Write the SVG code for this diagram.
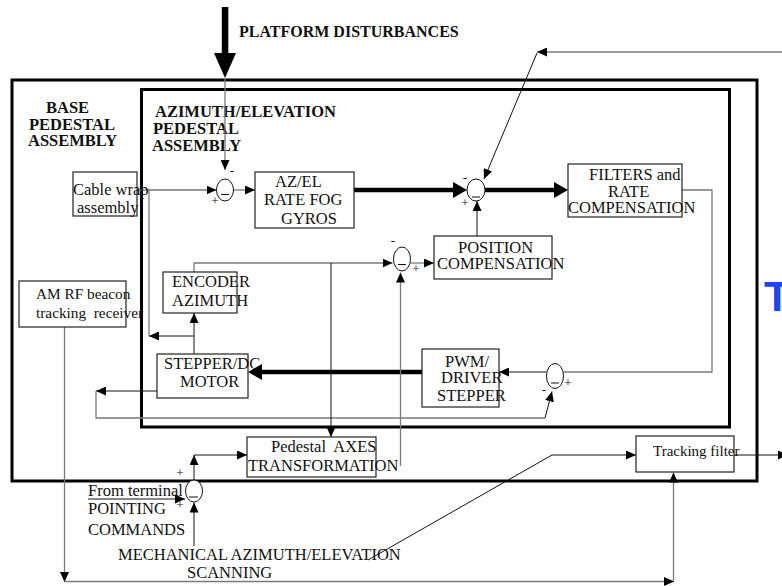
<svg xmlns="http://www.w3.org/2000/svg" width="782" height="586" viewBox="0 0 782 586">
<style>
.t{font-family:"Liberation Serif","Times New Roman",serif;font-size:16.5px;fill:#111;white-space:pre}
.b{font-weight:bold}
.s{font-size:13px}
.box{fill:#fff;stroke:#222;stroke-width:1.2}
.frame{fill:none;stroke:#000;stroke-width:3}
.g{fill:none;stroke:#7a7a7a;stroke-width:1.3}
.k{fill:none;stroke:#111;stroke-width:1}
.thick{fill:none;stroke:#000;stroke-width:4.5}
.j{fill:#fff;stroke:#111;stroke-width:1}
.m{stroke:#111;stroke-width:1}
</style>
<defs>
<marker id="a" viewBox="0 0 10 9" refX="10" refY="4.5" markerWidth="10" markerHeight="9" markerUnits="userSpaceOnUse" orient="auto"><path d="M0,0 L10,4.5 L0,9 z" fill="#000"/></marker>
<marker id="A" viewBox="0 0 14 16" refX="0" refY="8" markerWidth="14" markerHeight="16" markerUnits="userSpaceOnUse" orient="auto"><path d="M0,0 L14,8 L0,16 z" fill="#000"/></marker>
</defs>
<rect width="782" height="586" fill="#fff"/>

<g id="frames">
<rect class="frame" x="12" y="80" width="745" height="401"/>
<rect class="frame" x="141.5" y="89.5" width="588" height="337.5"/>
<text class="t b" x="46" y="113">BASE</text>
<text class="t b" x="29" y="129.5">PEDESTAL</text>
<text class="t b" x="28" y="146">ASSEMBLY</text>
<text class="t b" x="155" y="117">AZIMUTH/ELEVATION</text>
<text class="t b" x="153" y="134">PEDESTAL</text>
<text class="t b" x="152" y="151">ASSEMBLY</text>
</g>

<g id="connectors">
<rect x="221.8" y="7" width="6.5" height="47" fill="#000"/>
<polygon points="214,53 236,53 225,78" fill="#000"/>
<text class="t b" x="239" y="37" style="font-size:16px">PLATFORM DISTURBANCES</text>
<path class="g" d="M225,78 V170" marker-end="url(#a)"/>
<path class="g" d="M137,190 H149"/>
<path class="k" d="M194,336 H149" marker-end="url(#a)"/>
<path class="g" d="M149,336 V190 H216.5" marker-end="url(#a)"/>
<path class="g" d="M233.5,190 H255" marker-end="url(#a)"/>
<path class="thick" d="M354,190 H453" marker-end="url(#A)"/>
<path class="thick" d="M485,190 H554" marker-end="url(#A)"/>
<path class="g" d="M782,52 H537" marker-end="url(#a)"/>
<path class="k" d="M537,53 L484,179" marker-end="url(#a)"/>
<path class="k" d="M477,236 V201" marker-end="url(#a)"/>
<path class="g" d="M682,190 H712 V372 H563.5"/>
<path class="k" d="M546.5,372 H499" marker-end="url(#a)"/>
<path class="thick" d="M422,372 H262" marker-end="url(#A)"/>
<path class="k" d="M157,391 H96" marker-end="url(#a)"/>
<path class="g" d="M96,391 V418 H545"/>
<path class="k" d="M545,418 L552,391.5" marker-end="url(#a)"/>
<path class="k" d="M194,354 V313" marker-end="url(#a)"/>
<path class="g" d="M194,272 V263 H392.5" marker-end="url(#a)"/>
<path class="k" d="M331,263 V437" marker-end="url(#a)"/>
<path class="g" d="M400.5,466 V272.5" marker-end="url(#a)"/>
<path class="g" d="M410.5,263 H434" marker-end="url(#a)"/>
<path class="g" d="M64.5,327 V582" marker-end="url(#a)"/>
<path class="g" d="M64.5,581.5 H674" marker-end="url(#a)"/>
<path class="g" d="M673.5,581.5 V472.5" marker-end="url(#a)"/>
<path class="k" d="M368,560 L552,455 H636" marker-end="url(#a)"/>
<path class="k" d="M734,455 H788" marker-end="url(#a)"/>
<path class="k" d="M88,499 H185" marker-end="url(#a)"/>
<path class="k" d="M194,480 V455" marker-end="url(#a)"/>
<path class="k" d="M194,455 H247" marker-end="url(#a)"/>
<path class="k" d="M194,546 V502.5" marker-end="url(#a)"/>
</g>

<g id="cable-wrap">
<rect class="box" x="73" y="172" width="64" height="44"/>
<text class="t" x="73" y="195">Cable wrap</text>
<text class="t" x="77" y="213">assembly</text>
</g>

<g id="sum1">
<ellipse class="j" cx="225" cy="190" rx="8.5" ry="11"/>
<line class="m" x1="221" y1="194.5" x2="229" y2="194.5"/>
<text class="t s" x="232" y="175" text-anchor="middle">-</text>
<text class="t s" x="215" y="204.5" text-anchor="middle">+</text>
</g>

<g id="rate-fog-gyros">
<rect class="box" x="255" y="172" width="99" height="56"/>
<text class="t" x="275" y="187">AZ/EL</text>
<text class="t" x="264" y="205">RATE FOG</text>
<text class="t" x="281" y="224">GYROS</text>
</g>

<g id="sum2">
<ellipse class="j" cx="476" cy="190" rx="9" ry="11"/>
<line class="m" x1="472" y1="197" x2="480" y2="197"/>
<text class="t s" x="465" y="182" text-anchor="middle">-</text>
<text class="t s" x="465" y="206.5" text-anchor="middle">+</text>
</g>

<g id="filters">
<rect class="box" x="568" y="164" width="114" height="53"/>
<text class="t" x="589" y="180">FILTERS and</text>
<text class="t" x="608" y="197">RATE</text>
<text class="t" x="568" y="213">COMPENSATION</text>
</g>

<g id="position-compensation">
<rect class="box" x="434" y="236" width="118" height="43"/>
<text class="t" x="458" y="253">POSITION</text>
<text class="t" x="437" y="269">COMPENSATION</text>
</g>

<g id="sum3">
<ellipse class="j" cx="402" cy="259" rx="8.5" ry="12"/>
<line class="m" x1="398" y1="264.5" x2="406" y2="264.5"/>
<text class="t s" x="393" y="245" text-anchor="middle">-</text>
<text class="t s" x="416" y="272.5" text-anchor="middle">+</text>
</g>

<g id="encoder">
<rect class="box" x="163" y="272" width="74" height="41"/>
<text class="t" x="172" y="287">ENCODER</text>
<text class="t" x="172" y="306">AZIMUTH</text>
</g>

<g id="am-rf-beacon">
<rect class="box" x="19" y="281" width="107" height="46"/>
<text class="t" x="36" y="299" style="font-size:15.3px">AM RF beacon</text>
<text class="t" x="36" y="318" style="font-size:15.3px">tracking  receiver</text>
</g>

<g id="stepper-motor">
<rect class="box" x="157" y="354" width="91" height="44"/>
<text class="t" x="164" y="369">STEPPER/DC</text>
<text class="t" x="180" y="387">MOTOR</text>
</g>

<g id="pwm-driver">
<rect class="box" x="422" y="349" width="77" height="58"/>
<text class="t" x="445" y="367">PWM/</text>
<text class="t" x="441" y="383">DRIVER</text>
<text class="t" x="437" y="401">STEPPER</text>
</g>

<g id="sum4">
<ellipse class="j" cx="555" cy="376" rx="8.5" ry="12.5"/>
<line class="m" x1="551" y1="383" x2="559" y2="383"/>
<text class="t s" x="568" y="386.5" text-anchor="middle">+</text>
<text class="t s" x="544" y="394" text-anchor="middle">-</text>
</g>

<g id="pedestal-axes">
<rect class="box" x="247" y="437" width="129" height="40"/>
<text class="t" x="271" y="452">Pedestal  AXES</text>
<text class="t" x="248" y="471">TRANSFORMATION</text>
</g>

<g id="tracking-filter">
<rect class="box" x="636" y="436" width="98" height="36"/>
<text class="t" x="653" y="456" style="font-size:15px">Tracking filter</text>
</g>

<g id="sum5">
<ellipse class="j" cx="194" cy="491" rx="8.5" ry="11"/>
<line class="m" x1="189" y1="497" x2="198" y2="497"/>
<text class="t s" x="180" y="476.5" text-anchor="middle">+</text>
<text class="t s" x="180" y="509" text-anchor="middle">+</text>
</g>

<g id="pointing-commands">
<text class="t" x="88" y="496">From terminal</text>
<text class="t" x="88" y="514">POINTING</text>
<text class="t" x="88" y="535">COMMANDS</text>
</g>

<g id="mechanical-scanning">
<text class="t" x="118" y="560">MECHANICAL AZIMUTH/ELEVATION</text>
<text class="t" x="187" y="578">SCANNING</text>
</g>

<text x="764" y="311" style="font-family:'Liberation Sans',Arial,sans-serif;font-weight:bold;font-size:43px;fill:#1b46e8">T</text>
</svg>
